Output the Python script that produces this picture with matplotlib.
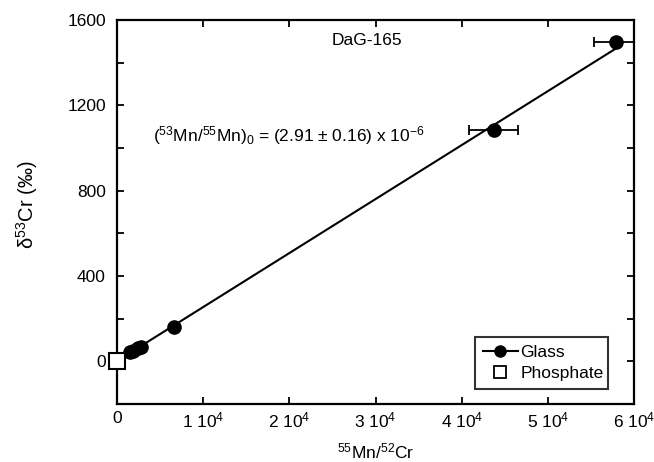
import matplotlib
matplotlib.use("Agg")
import matplotlib.pyplot as plt
from matplotlib.lines import Line2D
import numpy as np

plt.rcParams['font.family'] = ['Liberation Sans', 'DejaVu Sans']
plt.rcParams['mathtext.default'] = 'regular'

# Data
glass_x = [1500, 1900, 2400, 2800, 6600, 43700, 57900]
glass_y = [42, 48, 62, 66, 159, 1085, 1498]
glass_xerr = [0, 0, 0, 0, 0, 2800, 2600]
phos_x = [0]
phos_y = [0]
fit_x = [1000, 57900]
fit_y = [27, 1467]

xticks = [0, 10000, 20000, 30000, 40000, 50000, 60000]
xticklabels = ['0', '1 10$^4$', '2 10$^4$', '3 10$^4$', '4 10$^4$', '5 10$^4$', '6 10$^4$']
yticks = [0, 200, 400, 600, 800, 1000, 1200, 1400, 1600]
yticklabels = ['0', '', '400', '', '800', '', '1200', '', '1600']

FS = 12.5

fig = plt.figure(figsize=(6.54, 4.62), dpi=100)
ax = fig.add_axes([0.179, 0.1255, 0.7905, 0.831])

ax.plot(fit_x, fit_y, color='black', lw=1.5, zorder=2)
ax.errorbar(glass_x, glass_y, xerr=glass_xerr, fmt='o', color='black',
            ms=9.5, capsize=3.5, elinewidth=1.3, capthick=1.3, zorder=3,
            clip_on=True)
ax.plot(phos_x, phos_y, 's', ms=11, mfc='white', mec='black', mew=1.5,
        clip_on=False, zorder=4)

ax.set_xlim(0, 60000)
ax.set_ylim(-200, 1600)
ax.set_xticks(xticks)
ax.set_xticklabels(xticklabels)
ax.set_yticks(yticks)
ax.set_yticklabels(yticklabels)
ax.tick_params(direction='in', length=5, width=1.3, top=True, right=True,
               labelsize=FS)
ax.tick_params(axis='y', pad=8)
ax.tick_params(axis='x', pad=5)
for s in ax.spines.values():
    s.set_linewidth(1.6)

ax.set_xlabel('$^{55}$Mn/$^{52}$Cr', fontsize=FS, va='top')
ax.xaxis.set_label_coords(0.5, -0.097)
ax.set_ylabel('δ$^{53}$Cr (‰)', fontsize=14.5)
ax.yaxis.set_label_coords(-0.15, 0.518)

ax.text(0.4836, 0.948, 'DaG-165', transform=ax.transAxes, ha='center', va='center',
        fontsize=FS)
ax.text(0.0696, 0.699, '($^{53}$Mn/$^{55}$Mn)$_0$ = (2.91 ± 0.16) x 10$^{-6}$',
        transform=ax.transAxes, ha='left', va='center', fontsize=FS)

handles = [Line2D([0], [0], color='black', lw=1.5, marker='o', ms=8),
           Line2D([0], [0], ls='none', marker='s', ms=9, mfc='white',
                  mec='black', mew=1.3)]
leg = ax.legend(handles, ['Glass', 'Phosphate'], loc='lower left',
                bbox_to_anchor=(0.726, 0.158, 0.204, 0.111),
                bbox_transform=fig.transFigure, mode='expand',
                fontsize=FS, frameon=True, fancybox=False, borderpad=0.46,
                handlelength=2.0, handletextpad=0.17, labelspacing=0.33,
                borderaxespad=0)
leg.get_frame().set_edgecolor('black')
leg.get_frame().set_linewidth(1.5)

fig.savefig('out.png', dpi=100)
